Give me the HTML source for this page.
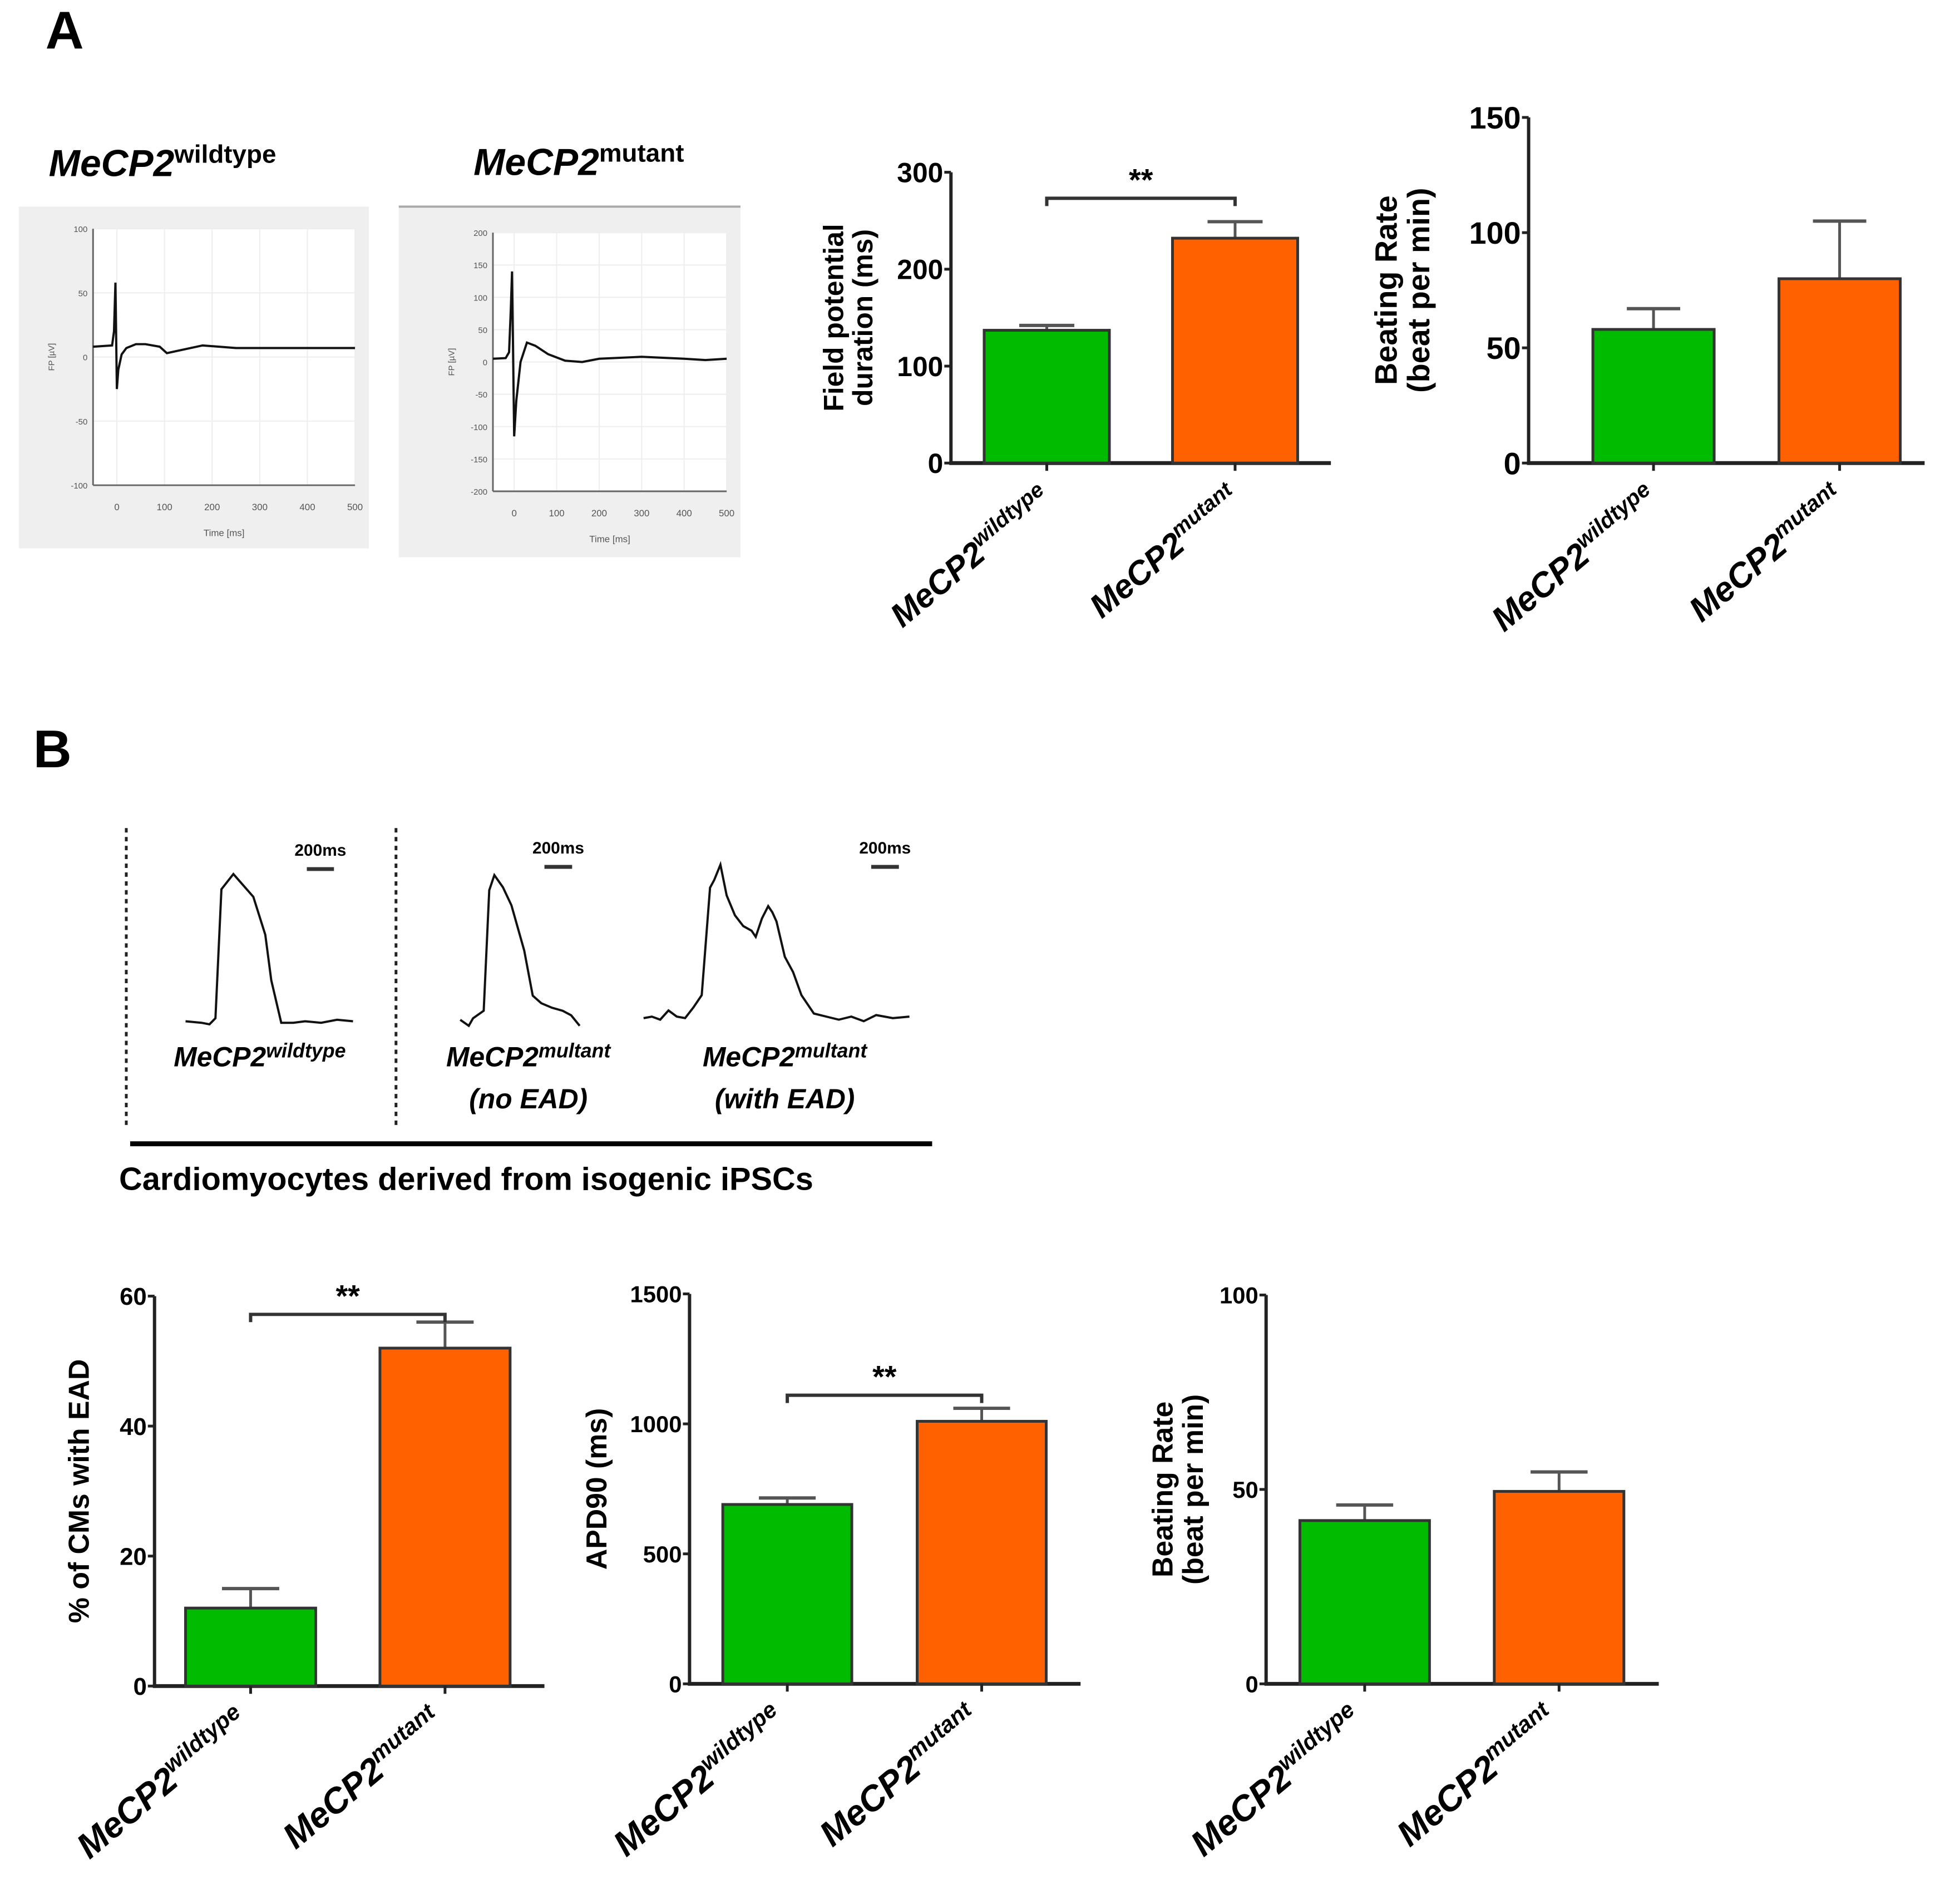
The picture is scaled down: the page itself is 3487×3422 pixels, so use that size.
<!DOCTYPE html>
<html><head><meta charset="utf-8"><style>
html,body{margin:0;padding:0;background:#fff;}
svg{display:block;font-family:"Liberation Sans",sans-serif;}
</style></head><body>
<svg id="fig" width="3487" height="3422" viewBox="0 0 3487 3422" xmlns="http://www.w3.org/2000/svg">
<g transform="scale(0.9955)">
<text x="82" y="88" font-size="96" font-weight="bold">A</text>
<text x="60" y="1385" font-size="96" font-weight="bold">B</text>
<text x="88" y="318" font-size="68" font-weight="bold" font-style="italic">MeCP2<tspan dy="-24" font-size="46" font-style="normal">wildtype</tspan></text>
<text x="855" y="316" font-size="68" font-weight="bold" font-style="italic">MeCP2<tspan dy="-24" font-size="46" font-style="normal">mutant</tspan></text>
<g id="fpA"></g><g id="fpB"></g><g id="apTraces"></g>
<line x1="235" y1="2065" x2="1683" y2="2065" stroke="#000" stroke-width="9"/>
<text x="215" y="2148" font-size="58" font-weight="bold">Cardiomyocytes derived from isogenic iPSCs</text>
<g id="c1"></g><g id="c2"></g><g id="c3"></g><g id="c4"></g><g id="c5"></g>
</g>
</svg>
<script>
const NS="http://www.w3.org/2000/svg";
function el(p,tag,a){const e=document.createElementNS(NS,tag);for(const k in a)e.setAttribute(k,a[k]);p.appendChild(e);return e;}
// ---- bar chart data ----
const categories=["wildtype","mutant"];
const fpdValues=[137,232], fpdErrors=[5,17], fpdTicks=[0,100,200,300];
const brAValues=[58,80], brAErrors=[9,25], brATicks=[0,50,100,150];
const eadValues=[12,52], eadErrors=[3,4], eadTicks=[0,20,40,60];
const apdValues=[690,1010], apdErrors=[25,50], apdTicks=[0,500,1000,1500];
const brBValues=[42,49.5], brBErrors=[4,5], brBTicks=[0,50,100];
const colors=["#00bb00","#ff6000"];
function barChart(g,o){
  const y=v=>o.y0-(v-o.min)/(o.max-o.min)*(o.y0-o.yTop);
  el(g,'line',{x1:o.ax,y1:o.yTop,x2:o.ax,y2:o.y0+3,stroke:'#222','stroke-width':6});
  el(g,'line',{x1:o.ax-3,y1:o.y0,x2:o.xEnd,y2:o.y0,stroke:'#222','stroke-width':7});
  o.ticks.forEach(t=>{
    el(g,'line',{x1:o.ax-12,y1:y(t),x2:o.ax,y2:y(t),stroke:'#222','stroke-width':5});
    const tx=el(g,'text',{x:o.ax-14,y:y(t)+o.fs*0.36,'text-anchor':'end','font-size':o.fs,'font-weight':'bold'});
    tx.textContent=t;
    
    
  });
  const yt=el(g,'text',{transform:`translate(${o.titleX},${(o.y0+o.yTop)/2}) rotate(-90)`,'text-anchor':'middle','font-size':o.tfs,'font-weight':'bold'});
  
  
  o.title.forEach((s,i)=>{const ts=el(yt,'tspan',{x:0,dy:i?o.tfs*1.05:(o.title.length>1?-o.tfs*0.15:0)});ts.textContent=s;});
  o.vals.forEach((v,i)=>{
    const x0=o.bx[i], w=o.bw, cx=x0+w/2;
    const e1=el(g,'line',{x1:cx,y1:y(v),x2:cx,y2:y(v+o.errs[i]),stroke:'#555','stroke-width':5});
    
    
    el(g,'line',{x1:cx-w*0.22,y1:y(v+o.errs[i]),x2:cx+w*0.22,y2:y(v+o.errs[i]),stroke:'#555','stroke-width':6});
    const r=el(g,'rect',{x:x0,y:y(v),width:w,height:o.y0-y(v),fill:colors[i],stroke:'#333','stroke-width':5});
    
    
    el(g,'line',{x1:cx,y1:o.y0,x2:cx,y2:o.y0+14,stroke:'#222','stroke-width':5});
    const lb=el(g,'text',{transform:`translate(${cx+o.lblDx},${o.y0+o.lblDy}) rotate(-40)`,'text-anchor':'end','font-size':o.lfs,'font-weight':'bold','font-style':'italic'});
    
    
    lb.textContent='MeCP2';
    const sp=el(lb,'tspan',{dy:-o.lfs*0.38,'font-size':o.lfs*0.65});sp.textContent=categories[i];
  });
  if(o.sig){
    const yy=o.sigY, xa=o.bx[0]+o.bw/2, xb=o.bx[1]+o.bw/2;
    const br=el(g,'path',{d:`M${xa} ${yy+14}V${yy}H${xb}V${yy+14}`,fill:'none',stroke:'#333','stroke-width':6});
    
    
    const st=el(g,'text',{x:(xa+xb)/2,y:yy-14,'text-anchor':'middle','font-size':56,'font-weight':'bold'});
    st.textContent='**';
    
    
  }
}
barChart(document.getElementById('c1'),{ax:1717,yTop:311,y0:836,xEnd:2403,min:0,max:300,ticks:fpdTicks,vals:fpdValues,errs:fpdErrors,bx:[1777,2117],bw:226,fs:50,tfs:50,titleX:1530,title:["Field potential","duration (ms)"],lfs:60,lblDx:12,lblDy:70,sig:[0,1],sigY:358});
barChart(document.getElementById('c2'),{ax:2760,yTop:212,y0:836,xEnd:3475,min:0,max:150,ticks:brATicks,vals:brAValues,errs:brAErrors,bx:[2876,3212],bw:219,fs:56,tfs:56,titleX:2530,title:["Beating Rate","(beat per min)"],lfs:62,lblDx:12,lblDy:70});
barChart(document.getElementById('c3'),{ax:279,yTop:2340,y0:3044,xEnd:983,min:0,max:60,ticks:eadTicks,vals:eadValues,errs:eadErrors,bx:[335,686],bw:235,fs:44,tfs:52,titleX:160,title:["% of CMs with EAD"],lfs:64,lblDx:0,lblDy:70,sig:[0,1],sigY:2373});
barChart(document.getElementById('c4'),{ax:1245,yTop:2336,y0:3040,xEnd:1951,min:0,max:1500,ticks:apdTicks,vals:apdValues,errs:apdErrors,bx:[1305,1656],bw:233,fs:42,tfs:52,titleX:1095,title:["APD90 (ms)"],lfs:64,lblDx:0,lblDy:70,sig:[0,1],sigY:2519});
barChart(document.getElementById('c5'),{ax:2286,yTop:2338,y0:3040,xEnd:2995,min:0,max:100,ticks:brBTicks,vals:brBValues,errs:brBErrors,bx:[2347,2698],bw:234,fs:42,tfs:52,titleX:2125,title:["Beating Rate","(beat per min)"],lfs:64,lblDx:0,lblDy:70});

// ---- field potential traces ----
const fpWtT=[-50,-10,-6,-3,0,3,10,20,40,60,90,105,130,180,250,350,450,500];
const fpWtV=[8,9,20,58,-25,-10,2,7,10,10,8,3,5,9,7,7,7,7];
const fpMuT=[-50,-20,-12,-8,-5,0,5,15,30,50,80,120,160,200,300,400,450,500];
const fpMuV=[5,6,15,80,140,-115,-60,0,30,25,12,2,0,5,8,5,3,5];
function fpPanel(g,o,T,V,yt){
  el(g,'rect',{x:o.bx,y:o.by,width:o.bw,height:o.bh,fill:'#efefef'});
  el(g,'rect',{x:o.px,y:o.py,width:o.pw,height:o.ph,fill:'#fff'});
  const xs=t=>o.px+(t+50)/550*o.pw, ys=v=>o.py+(yt[yt.length-1]-v)/(yt[yt.length-1]-yt[0])*o.ph;
  [0,100,200,300,400,500].forEach(t=>{el(g,'line',{x1:xs(t),y1:o.py,x2:xs(t),y2:o.py+o.ph,stroke:'#eee','stroke-width':2});
    const tx=el(g,'text',{x:xs(t),y:o.py+o.ph+45,'text-anchor':'middle','font-size':17,fill:'#555'});tx.textContent=t;});
  yt.forEach(v=>{el(g,'line',{x1:o.px,y1:ys(v),x2:o.px+o.pw,y2:ys(v),stroke:'#eee','stroke-width':2});
    const tx=el(g,'text',{x:o.px-10,y:ys(v)+6,'text-anchor':'end','font-size':15,fill:'#555'});tx.textContent=v;});
  el(g,'line',{x1:o.px,y1:o.py,x2:o.px,y2:o.py+o.ph,stroke:'#666','stroke-width':3});
  el(g,'line',{x1:o.px,y1:o.py+o.ph,x2:o.px+o.pw,y2:o.py+o.ph,stroke:'#666','stroke-width':3});
  const lbl=el(g,'text',{x:o.px+o.pw/2,y:o.py+o.ph+92,'text-anchor':'middle','font-size':17,fill:'#555'});lbl.textContent='Time [ms]';
  const yl=el(g,'text',{transform:`translate(${o.px-70},${o.py+o.ph/2}) rotate(-90)`,'text-anchor':'middle','font-size':15,fill:'#555'});yl.textContent='FP [µV]';
  const p=el(g,'polyline',{points:T.map((t,i)=>xs(t)+','+ys(V[i])).join(' '),fill:'none',stroke:'#111','stroke-width':4});
  
  
}
fpPanel(document.getElementById('fpA'),{bx:34,by:373,bw:632,bh:617,px:168,py:413,pw:473,ph:463},fpWtT,fpWtV,[-100,-50,0,50,100]);
fpPanel(document.getElementById('fpB'),{bx:720,by:373,bw:617,bh:633,px:890,py:420,pw:422,ph:467},fpMuT,fpMuV,[-200,-150,-100,-50,0,50,100,150,200]);
el(document.getElementById('fpB'),'line',{x1:720,y1:373,x2:1337,y2:373,stroke:'#aaa','stroke-width':4});

// ---- action potential traces ----
const apWtT=[0,40,60,75,90,120,170,200,215,240,270,300,340,380,420];
const apWtV=[0.03,0.02,0.01,0.05,0.9,1,0.85,0.6,0.3,0.02,0.02,0.03,0.02,0.04,0.03];
const apNoT=[0,20,30,55,68,80,100,120,150,170,190,215,240,260,280];
const apNoV=[0.04,0,0.05,0.1,0.9,1,0.92,0.8,0.5,0.2,0.15,0.12,0.1,0.07,0];
const apEadT=[0,20,40,60,80,100,120,140,160,170,185,200,220,240,260,270,285,300,310,320,340,360,380,410,440,470,500,530,560,600,640];
const apEadV=[0.05,0.06,0.04,0.1,0.06,0.05,0.12,0.2,0.9,0.95,1.05,0.85,0.72,0.65,0.62,0.58,0.7,0.78,0.74,0.68,0.45,0.35,0.2,0.08,0.06,0.04,0.06,0.03,0.07,0.05,0.06];
const apT=document.getElementById('apTraces');
function ap(T,V,x0,xsc,yb,ytop,name){
  const p=el(apT,'polyline',{points:T.map((t,i)=>(x0+t*xsc)+','+(yb-V[i]*(yb-ytop))).join(' '),fill:'none',stroke:'#111','stroke-width':4});
  
  
}
ap(apWtT,apWtV,335,0.72,1852,1578,'ap-trace-wildtype');
ap(apNoT,apNoV,831,0.77,1852,1580,'ap-trace-mutant-no-ead');
ap(apEadT,apEadV,1162,0.75,1852,1575,'ap-trace-mutant-with-ead');
[[554,603,1569],[983,1033,1565],[1573,1623,1565]].forEach(s=>{
  el(apT,'line',{x1:s[0],y1:s[2],x2:s[1],y2:s[2],stroke:'#333','stroke-width':7});
  const t=el(apT,'text',{x:(s[0]+s[1])/2,y:s[2]-24,'text-anchor':'middle','font-size':30,'font-weight':'bold'});
  t.textContent='200ms';
  
  
});
[228,715].forEach(x=>{el(apT,'line',{x1:x,y1:1495,x2:x,y2:2035,stroke:'#222','stroke-width':5,'stroke-dasharray':'8 8'});});
[[469,1925,'wildtype',null],[954,1925,'multant','(no EAD)'],[1417,1925,'multant','(with EAD)']].forEach(l=>{
  const t=el(apT,'text',{x:l[0],y:l[1],'text-anchor':'middle','font-size':50,'font-weight':'bold','font-style':'italic'});
  t.textContent='MeCP2';
  
  
  const s=el(t,'tspan',{dy:-16,'font-size':36});s.textContent=l[2];
  if(l[3]){const t2=el(apT,'text',{x:l[0],y:l[1]+76,'text-anchor':'middle','font-size':50,'font-weight':'bold','font-style':'italic'});t2.textContent=l[3];}
});
</script>
</body></html>
